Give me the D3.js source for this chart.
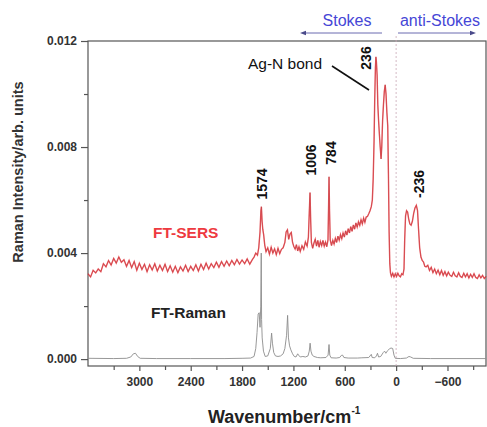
<!DOCTYPE html>
<html><head><meta charset="utf-8">
<script src="https://cdn.jsdelivr.net/npm/d3@7"></script>
<style>body{margin:0;background:#fff}svg{display:block}text{font-family:"Liberation Sans",Arial,sans-serif}</style>
</head><body><svg id="c" width="487" height="427"></svg>
<script>
// wavenumber (cm-1) and intensity (arb. units)
const sersWave = [3600,3570,3540,3510,3480,3450,3420,3390,3360,3330,3300,3270,3240,3210,3180,3150,3120,3090,3060,3030,3000,2970,2940,2910,2880,2850,2820,2790,2760,2730,2700,2670,2640,2610,2580,2550,2520,2490,2460,2430,2400,2370,2340,2310,2280,2250,2220,2190,2160,2130,2100,2070,2040,2010,1980,1950,1920,1890,1860,1830,1800,1770,1740,1710,1680,1660,1640,1620,1605,1590,1580,1574,1566,1558,1548,1535,1520,1500,1480,1460,1440,1420,1400,1380,1360,1340,1320,1300,1285,1270,1255,1240,1225,1210,1195,1180,1165,1150,1135,1120,1100,1080,1060,1040,1025,1014,1006,998,990,975,960,945,930,915,900,885,870,855,840,825,810,796,788,784,778,770,755,740,725,710,695,680,665,650,635,620,605,590,575,560,545,530,515,500,485,470,455,440,425,410,395,380,365,350,335,320,305,290,278,268,258,250,242,236,230,222,214,205,196,186,176,168,158,148,138,128,118,108,98,90,82,74,66,55,40,25,10,-5,-20,-35,-50,-65,-80,-92,-100,-110,-122,-134,-146,-160,-175,-190,-205,-220,-236,-250,-262,-275,-290,-305,-320,-335,-350,-370,-390,-410,-430,-450,-470,-490,-510,-530,-550,-570,-590,-610,-630,-650,-670,-690,-710,-730,-750,-770,-790,-810,-830,-850,-870,-890,-910,-930,-950,-970,-990,-1010,-1030,-1050];
const sersVal = [0.00322,0.00310,0.00335,0.00325,0.00340,0.00330,0.00360,0.00348,0.00372,0.00355,0.00380,0.00362,0.00385,0.00365,0.00375,0.00350,0.00372,0.00345,0.00368,0.00335,0.00362,0.00338,0.00358,0.00330,0.00356,0.00336,0.00360,0.00332,0.00354,0.00334,0.00358,0.00330,0.00352,0.00328,0.00350,0.00326,0.00348,0.00332,0.00354,0.00330,0.00350,0.00334,0.00356,0.00332,0.00358,0.00338,0.00362,0.00340,0.00360,0.00345,0.00366,0.00346,0.00368,0.00350,0.00370,0.00352,0.00372,0.00356,0.00376,0.00358,0.00374,0.00360,0.00378,0.00358,0.00375,0.00385,0.00400,0.00392,0.00420,0.00480,0.00560,0.00575,0.00520,0.00490,0.00470,0.00430,0.00405,0.00420,0.00396,0.00422,0.00400,0.00416,0.00394,0.00418,0.00398,0.00414,0.00420,0.00440,0.00480,0.00488,0.00452,0.00472,0.00478,0.00440,0.00425,0.00415,0.00432,0.00408,0.00424,0.00406,0.00428,0.00414,0.00442,0.00426,0.00460,0.00560,0.00628,0.00520,0.00440,0.00418,0.00438,0.00452,0.00426,0.00448,0.00422,0.00444,0.00428,0.00448,0.00426,0.00442,0.00424,0.00450,0.00600,0.00688,0.00560,0.00450,0.00428,0.00448,0.00434,0.00456,0.00440,0.00464,0.00448,0.00470,0.00454,0.00476,0.00460,0.00484,0.00468,0.00492,0.00476,0.00500,0.00482,0.00506,0.00490,0.00514,0.00498,0.00518,0.00504,0.00526,0.00510,0.00532,0.00516,0.00536,0.00538,0.00548,0.00560,0.00575,0.00600,0.00680,0.00820,0.00980,0.01100,0.01140,0.01120,0.01070,0.00960,0.00900,0.00850,0.00800,0.00755,0.00800,0.00900,0.00960,0.01010,0.01035,0.01000,0.00930,0.00880,0.00700,0.00480,0.00360,0.00325,0.00312,0.00324,0.00310,0.00322,0.00312,0.00324,0.00314,0.00310,0.00322,0.00318,0.00340,0.00450,0.00540,0.00560,0.00555,0.00530,0.00510,0.00505,0.00520,0.00550,0.00570,0.00580,0.00560,0.00490,0.00420,0.00385,0.00372,0.00366,0.00350,0.00348,0.00354,0.00334,0.00346,0.00326,0.00340,0.00322,0.00336,0.00318,0.00334,0.00316,0.00330,0.00314,0.00328,0.00316,0.00312,0.00328,0.00314,0.00310,0.00326,0.00312,0.00308,0.00324,0.00310,0.00322,0.00306,0.00320,0.00308,0.00322,0.00308,0.00304,0.00318,0.00306,0.00316,0.00304,0.00312];

const ramanWave = [3600,3300,3150,3100,3070,3045,3020,2990,2800,2400,2000,1800,1700,1660,1640,1625,1612,1600,1590,1582,1576,1572,1565,1550,1530,1500,1470,1455,1445,1430,1410,1380,1350,1320,1300,1280,1268,1258,1245,1230,1210,1190,1170,1150,1140,1120,1090,1060,1030,1015,1005,995,980,960,920,880,820,795,784,775,760,700,660,640,625,610,560,450,400,320,290,280,250,230,218,205,180,150,135,120,100,80,60,40,25,10,-50,-120,-150,-170,-200,-400,-700,-1050];
const ramanVal = [0.00003,0.00002,0.00003,0.00008,0.00020,0.00022,0.00010,0.00003,0.00002,0.00002,0.00002,0.00003,0.00004,0.00010,0.00040,0.00100,0.00170,0.00175,0.00120,0.00200,0.00400,0.00150,0.00080,0.00030,0.00010,0.00012,0.00040,0.00098,0.00060,0.00025,0.00012,0.00010,0.00012,0.00020,0.00040,0.00090,0.00165,0.00080,0.00050,0.00035,0.00020,0.00010,0.00008,0.00020,0.00015,0.00008,0.00010,0.00008,0.00012,0.00030,0.00060,0.00030,0.00015,0.00010,0.00006,0.00005,0.00006,0.00015,0.00055,0.00015,0.00005,0.00004,0.00006,0.00014,0.00015,0.00006,0.00004,0.00004,0.00005,0.00006,0.00018,0.00006,0.00005,0.00012,0.00022,0.00008,0.00010,0.00025,0.00030,0.00022,0.00032,0.00038,0.00042,0.00040,0.00015,0.00003,0.00002,0.00004,0.00010,0.00008,0.00003,0.00002,0.00002,0.00002];

const xTickValues = [3000,2400,1800,1200,600,0,-600];
const xMinorTicks = [3300,2700,2100,1500,900,300,-300,-900];
const yTickValues = [0,0.004,0.008,0.012];
const yMinorTicks = [0.002,0.006,0.010];
const peakLabels = ["1574","1006","784","236","-236"];

const svg = d3.select("#c");
const L=88,R=486,T=41,B=366;
const x = d3.scaleLinear().domain([3600,-1050]).range([L,R]);
const y = d3.scaleLinear().domain([-0.00026,0.012]).range([B,T]);
const axisColor="#555";

// frame
svg.append("rect").attr("x",L).attr("y",T).attr("width",R-L).attr("height",B-T)
  .attr("fill","none").attr("stroke",axisColor).attr("stroke-width",1.2);

// zero line
svg.append("line").attr("x1",x(0)).attr("x2",x(0)).attr("y1",36).attr("y2",B)
  .attr("stroke","#c9a9b6").attr("stroke-width",0.8).attr("stroke-dasharray","2,2");

// axes
const gx = svg.append("g").attr("transform",`translate(0,${B})`)
  .call(d3.axisBottom(x).tickValues(xTickValues).tickSize(5).tickPadding(6).tickFormat(d3.format("d")));
const gxm = svg.append("g").attr("transform",`translate(0,${B})`)
  .call(d3.axisBottom(x).tickValues(xMinorTicks).tickSize(4).tickFormat(""));
const gy = svg.append("g").attr("transform",`translate(${L},0)`)
  .call(d3.axisLeft(y).tickValues(yTickValues).tickSize(7).tickPadding(4).tickFormat(d3.format(".3f")));
const gym = svg.append("g").attr("transform",`translate(${L},0)`)
  .call(d3.axisLeft(y).tickValues(yMinorTicks).tickSize(4).tickFormat(""));
[gx,gxm,gy,gym].forEach(g=>{
  g.select(".domain").remove();
  g.selectAll(".tick line").attr("stroke",axisColor).attr("stroke-width",1.2);
  g.selectAll("text").attr("font-size",12).attr("font-weight","bold").attr("fill","#333");
});

// lines
const line = d3.line().x(d=>x(d[0])).y(d=>y(d[1]));
const raman = ramanWave.map((w,i)=>[w,ramanVal[i]]);
const sers = sersWave.map((w,i)=>[w,sersVal[i]]);
svg.append("path").datum(raman).attr("d",line).attr("fill","none").attr("stroke","#8c8c8c").attr("stroke-width",0.9);
svg.append("path").datum(sers).attr("d",line).attr("fill","none").attr("stroke","#e8323a").attr("stroke-width",1.4).attr("opacity",0.8);
svg.append("path").datum(sers).attr("d",line).attr("fill","none").attr("stroke","#8a2025").attr("stroke-width",0.5).attr("opacity",0.5);

// peak labels
const labelPos = {"1574":[262,184],"1006":[311,160],"784":[331,153],"236":[366,58],"-236":[419,184]};
peakLabels.forEach(t=>{
  const [cx,cy]=labelPos[t];
  svg.append("text").attr("transform",`translate(${cx+5},${cy}) rotate(-90)`)
    .attr("text-anchor","middle").attr("font-size",14).attr("font-weight","bold").attr("fill","#111").text(t);
});

// Ag-N bond annotation
svg.append("text").attr("x",248).attr("y",69).attr("font-size",15.5).attr("fill","#111").text("Ag-N bond");
svg.append("line").attr("x1",332).attr("y1",66).attr("x2",369).attr("y2",90).attr("stroke","#111").attr("stroke-width",1.6);

// series labels
svg.append("text").attr("x",153).attr("y",238).attr("font-size",15.5).attr("font-weight","bold").attr("fill","#ee3a40").text("FT-SERS");
svg.append("text").attr("x",151).attr("y",318).attr("font-size",15.5).attr("font-weight","bold").attr("fill","#222").text("FT-Raman");

// Stokes / anti-Stokes
const blue="#4646d6";
svg.append("text").attr("x",347).attr("y",26).attr("text-anchor","middle").attr("font-size",16).attr("fill",blue).text("Stokes");
svg.append("text").attr("x",440).attr("y",26).attr("text-anchor","middle").attr("font-size",16).attr("fill",blue).text("anti-Stokes");
svg.append("line").attr("x1",382).attr("x2",303).attr("y1",33).attr("y2",33).attr("stroke","#6a6ab0").attr("stroke-width",1);
svg.append("path").attr("d","M300,33 l6,-2.2 v4.4 z").attr("fill","#4a4a8a");
svg.append("line").attr("x1",398).attr("x2",472).attr("y1",33).attr("y2",33).attr("stroke","#6a6ab0").attr("stroke-width",1);
svg.append("path").attr("d","M476,33 l-6,-2.2 v4.4 z").attr("fill","#4a4a8a");

// axis titles
svg.append("text").attr("x",208).attr("y",423).attr("font-size",18).attr("font-weight","bold").attr("fill","#222")
  .text("Wavenumber/cm").append("tspan").attr("font-size",10).attr("dy",-9).text("-1");
svg.append("text").attr("transform","translate(23,172) rotate(-90)").attr("text-anchor","middle")
  .attr("font-size",14.5).attr("font-weight","bold").attr("fill","#333").text("Raman Intensity/arb. units");
</script></body></html>
